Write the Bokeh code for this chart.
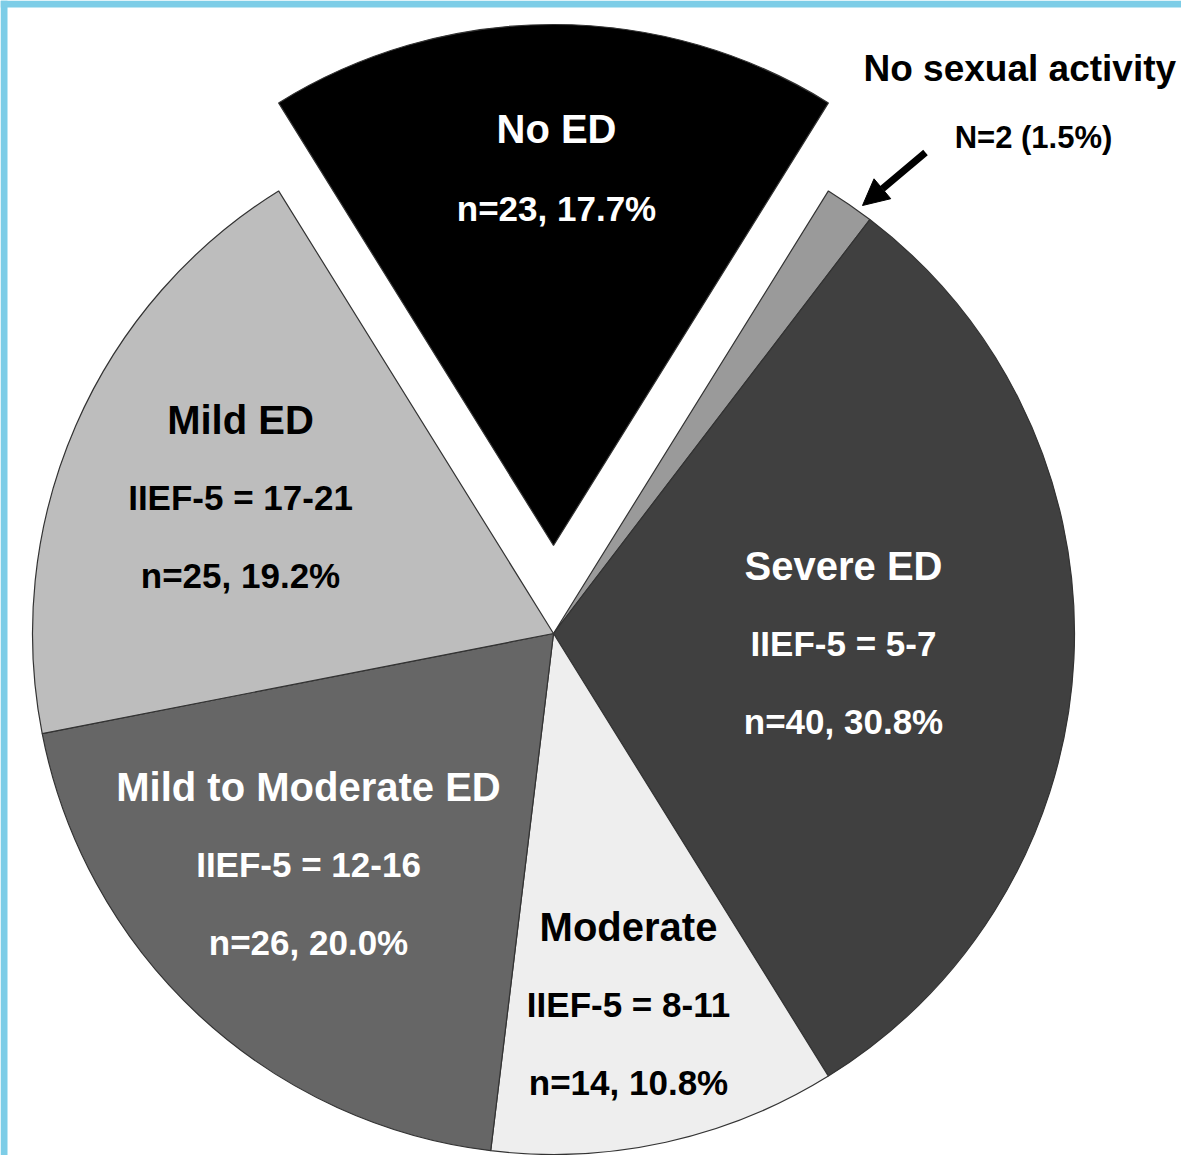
import numpy as np
from bokeh.plotting import figure
from bokeh.models import Range1d, Arrow, NormalHead, BoxAnnotation, ColumnDataSource
from bokeh.core.properties import value
from bokeh.embed import file_html
from bokeh.resources import INLINE

# ---------------- data ----------------
categories = ["No ED", "No sexual activity", "Severe ED", "Moderate",
              "Mild to Moderate ED", "Mild ED"]
counts = [23, 2, 40, 14, 26, 25]
percents = [17.7, 1.5, 30.8, 10.8, 20.0, 19.2]
iief_ranges = ["", "", "5-7", "8-11", "12-16", "17-21"]

# ---------------- style / layout ----------------
colors = ["#000000", "#9a9a9a", "#404040", "#eeeeee", "#666666", "#bdbdbd"]
text_colors = ["white", "black", "white", "black", "white", "black"]
FONT = "Liberation Sans"
W, H = 1181, 1155
CX, CY, R = 553, -633, 521
EXPLODE = [88, 0, 0, 0, 0, 0]
label_centres = [(556, -168), None, (843, -643), (628, -1004), (308, -864), (240, -497)]
LINE_GAP = 78

fracs = np.array(counts, dtype=float) / sum(counts)
cw = np.concatenate([[0.0], np.cumsum(fracs)]) * 360.0 - fracs[0] * 180.0
start = np.radians(90.0 - cw[1:])
end = np.radians(90.0 - cw[:-1])
mid = (start + end) / 2.0
xs = CX + np.array(EXPLODE) * np.cos(mid)
ys = CY + np.array(EXPLODE) * np.sin(mid)

src = ColumnDataSource(dict(x=xs, y=ys, start=start, end=end, color=colors, cat=categories))

p = figure(width=W, height=H, output_backend="svg", toolbar_location=None,
           x_range=Range1d(0, W), y_range=Range1d(-H, 0),
           x_axis_type=None, y_axis_type=None, min_border=0)
p.grid.visible = False
p.outline_line_color = None
p.background_fill_color = "white"
p.border_fill_color = "white"

# light-blue frame of the source image (left and top edges)
p.add_layout(BoxAnnotation(left=0, right=7, fill_color="#7dcde7", fill_alpha=1, line_alpha=0))
p.add_layout(BoxAnnotation(top=0, bottom=-7, fill_color="#7dcde7", fill_alpha=1, line_alpha=0))

p.wedge(x="x", y="y", radius=R, start_angle="start", end_angle="end",
        fill_color="color", line_color="#333333", line_width=1.2, source=src)

tx, ty, tt, tc, ts = [], [], [], [], []
for i, cat in enumerate(categories):
    if label_centres[i] is None:
        continue
    lx, ly = label_centres[i]
    lines = [cat]
    if iief_ranges[i]:
        lines.append(f"IIEF-5 = {iief_ranges[i]}")
    lines.append(f"n={counts[i]}, {percents[i]:.1f}%")
    n = len(lines)
    gap = LINE_GAP if n == 3 else 80
    for k, t in enumerate(lines):
        tx.append(lx)
        ty.append(ly - (k - (n - 1) / 2.0) * gap)
        tt.append(t)
        tc.append(text_colors[i])
        ts.append("40px" if k == 0 else "35px")

lab = ColumnDataSource(dict(x=tx, y=ty, text=tt, color=tc, size=ts))
p.text(x="x", y="y", text="text", text_color="color", text_font_size="size",
       text_font=value(FONT), text_font_style="bold", text_align="center",
       text_baseline="middle", source=lab)

p.text(x=[863], y=[-68], text=[categories[1]], text_font=value(FONT),
       text_font_style="bold", text_font_size="37px", text_color="black",
       text_align="left", text_baseline="middle")
p.text(x=[1033], y=[-137], text=[f"N={counts[1]} ({percents[1]:.1f}%)"],
       text_font=value(FONT), text_font_style="bold", text_font_size="31px",
       text_color="black", text_align="center", text_baseline="middle")
p.add_layout(Arrow(end=NormalHead(size=26, fill_color="black", line_color="black"),
                   x_start=925, y_start=-152, x_end=862, y_end=-205,
                   line_width=7, line_color="black"))

open("out.html", "w").write(file_html(p, INLINE))
